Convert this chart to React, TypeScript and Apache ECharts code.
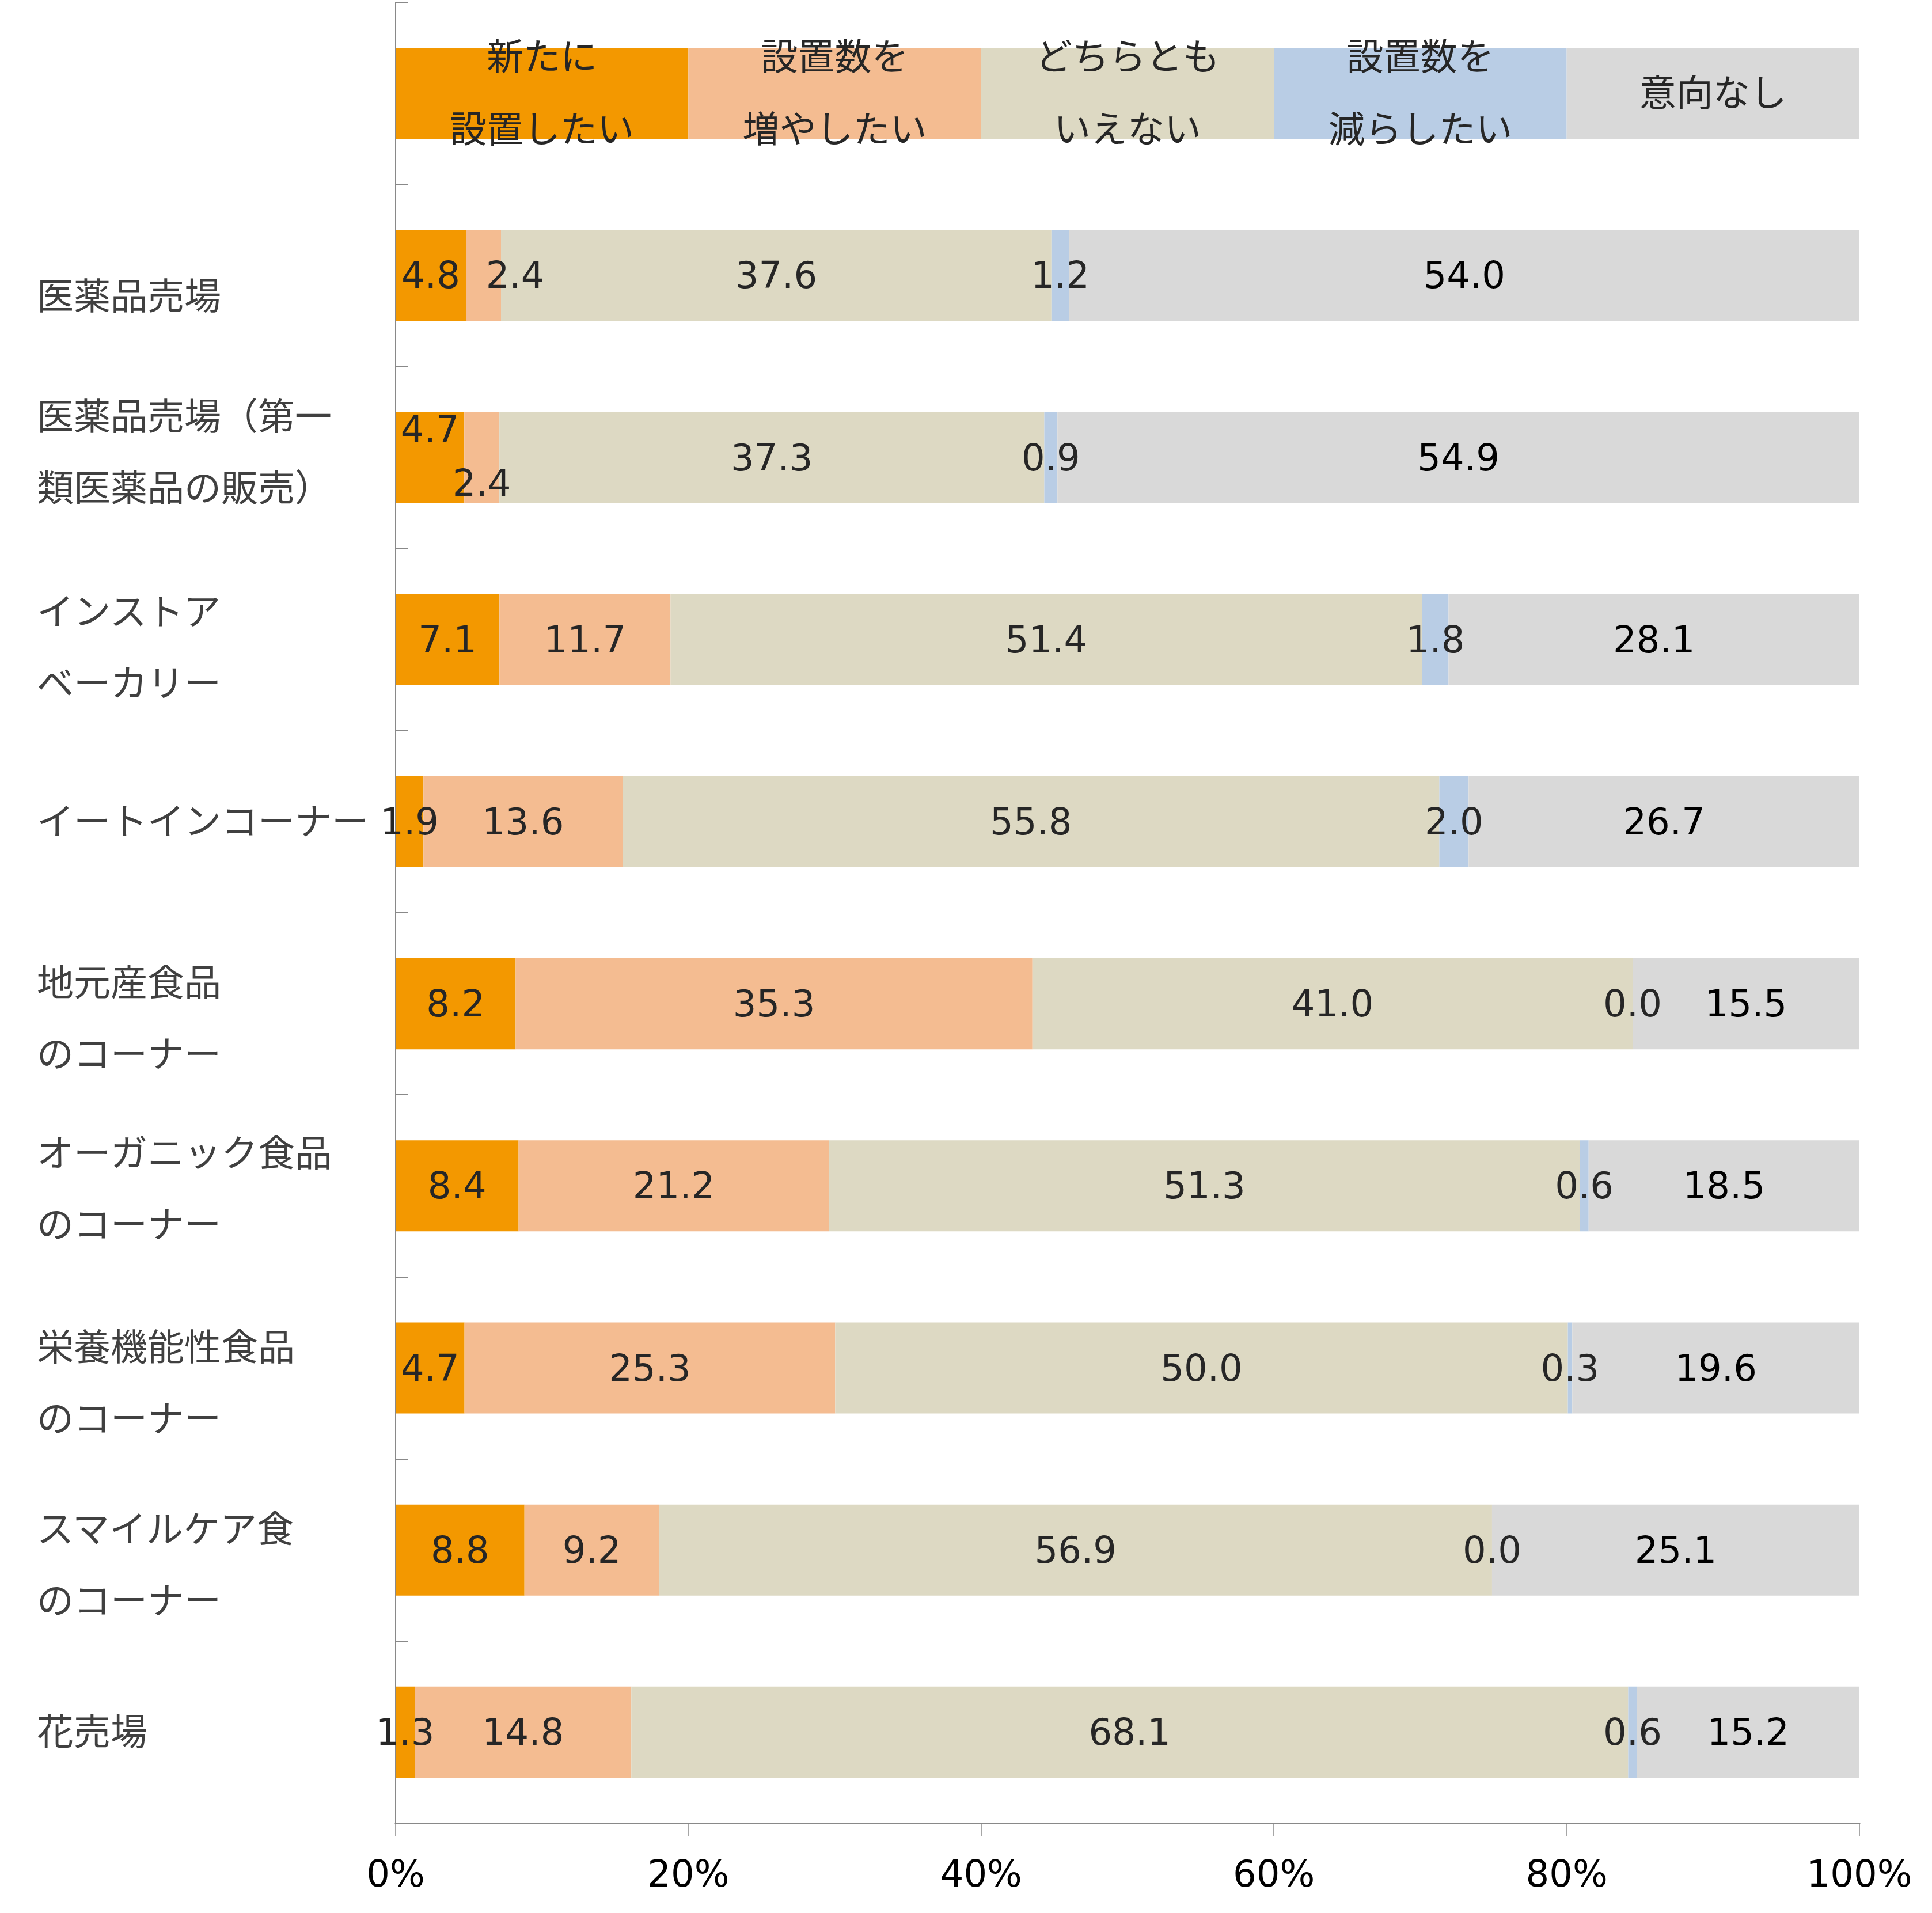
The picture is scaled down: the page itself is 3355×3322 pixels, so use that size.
import React, { useEffect, useRef } from "react";
import * as echarts from "echarts";

// Categories (top row is the in-chart legend row)
const categories: string[] = [
  "",
  "医薬品売場",
  "医薬品売場（第一\n類医薬品の販売）",
  "インストア\nベーカリー",
  "イートインコーナー",
  "地元産食品\nのコーナー",
  "オーガニック食品\nのコーナー",
  "栄養機能性食品\nのコーナー",
  "スマイルケア食\nのコーナー",
  "花売場",
];

const seriesNames: string[] = [
  "新たに設置したい",
  "設置数を増やしたい",
  "どちらともいえない",
  "設置数を減らしたい",
  "意向なし",
];
const legendLabels: string[] = [
  "新たに\n設置したい",
  "設置数を\n増やしたい",
  "どちらとも\nいえない",
  "設置数を\n減らしたい",
  "意向なし",
];
const legendRow: number[] = [20, 20, 20, 20, 20];

const newInstall: number[] = [4.8, 4.7, 7.1, 1.9, 8.2, 8.4, 4.7, 8.8, 1.3];
const increase: number[] = [2.4, 2.4, 11.7, 13.6, 35.3, 21.2, 25.3, 9.2, 14.8];
const neutral: number[] = [37.6, 37.3, 51.4, 55.8, 41.0, 51.3, 50.0, 56.9, 68.1];
const decrease: number[] = [1.2, 0.9, 1.8, 2.0, 0.0, 0.6, 0.3, 0.0, 0.6];
const noIntent: number[] = [54.0, 54.9, 28.1, 26.7, 15.5, 18.5, 19.6, 25.1, 15.2];

const xTicks: number[] = [0, 20, 40, 60, 80, 100];

const colors = ["#F39800", "#F4BC91", "#DDD9C3", "#B9CDE5", "#D9D9D9"];
const labelColors = ["#262626", "#262626", "#262626", "#262626", "#000000"];

// manual label nudges (series-row) as in the original
const labelOffsets: Record<string, number[]> = {
  "1-0": [55, 0],
  "0-1": [0, -49],
  "1-1": [0, 44],
};

// vertical nudges of category labels (px, positive = down)
const catShift: Record<string, number> = {
  "医薬品売場（第一\n類医薬品の販売）": -9,
  "インストア\nベーカリー": 14,
  "地元産食品\nのコーナー": 26,
  "オーガニック食品\nのコーナー": 6,
  "栄養機能性食品\nのコーナー": 26,
  "スマイルケア食\nのコーナー": 26,
};

const FONT = "'DejaVu Sans', 'Noto Sans CJK JP', sans-serif";
const FS = 64;
const LH = 124;

export default function App() {
  const ref = useRef<HTMLDivElement>(null);
  useEffect(() => {
    if (!ref.current) return;
    const chart = echarts.init(ref.current, undefined, { renderer: "svg" });
    const raw = [newInstall, increase, neutral, decrease, noIntent];
    const rowSums = newInstall.map((_, i) => raw.reduce((s, arr) => s + arr[i], 0));

    const series = raw.map((arr, si) => ({
      name: seriesNames[si],
      type: "bar",
      stack: "total",
      barCategoryGap: "50%",
      itemStyle: { color: colors[si] },
      label: {
        show: true,
        position: "inside",
        fontFamily: FONT,
        fontSize: FS,
        color: labelColors[si],
        formatter: (p: any) =>
          p.dataIndex === 0 ? legendLabels[si] : arr[p.dataIndex - 1].toFixed(1),
      },
      data: [
        {
          value: legendRow[si],
          label: { lineHeight: 126, color: "#262626" },
        },
        ...arr.map((v, i) => {
          const off = labelOffsets[`${si}-${i}`];
          const item: any = { value: (v / rowSums[i]) * 100 };
          if (off) item.label = { offset: off };
          return item;
        }),
      ],
    }));

    // rich styles for shifted two-line labels
    const rich: any = {
      s: {
        fontFamily: FONT,
        fontSize: FS,
        color: "#404040",
        lineHeight: 64,
        padding: [74, 0, 0, 0],
      },
    };
    const shiftKeys: Record<string, string> = {};
    Object.keys(catShift).forEach((k, idx) => {
      const d = catShift[k];
      const a = `a${idx}`;
      const b = `b${idx}`;
      shiftKeys[k] = `${idx}`;
      rich[a] = { fontFamily: FONT, fontSize: FS, color: "#404040", lineHeight: LH + 2 * d };
      rich[b] = { fontFamily: FONT, fontSize: FS, color: "#404040", lineHeight: LH - 2 * d };
    });

    chart.setOption({
      animation: false,
      backgroundColor: "#ffffff",
      grid: { left: 687, right: 126, top: 4, bottom: 156, containLabel: false },
      xAxis: {
        type: "value",
        min: xTicks[0],
        max: xTicks[xTicks.length - 1],
        interval: 20,
        axisLine: { show: true, lineStyle: { color: "#898989", width: 3 } },
        axisTick: { show: true, length: 22, lineStyle: { color: "#898989", width: 1.5 } },
        splitLine: { show: false },
        axisLabel: {
          formatter: "{value}%",
          fontFamily: FONT,
          fontSize: FS,
          lineHeight: 64,
          color: "#000000",
          margin: 56,
        },
      },
      yAxis: {
        type: "category",
        inverse: true,
        data: categories,
        axisLine: { show: true, lineStyle: { color: "#898989", width: 2 } },
        axisTick: { show: true, inside: true, length: 22, lineStyle: { color: "#898989", width: 2 } },
        axisLabel: {
          align: "left",
          margin: 623,
          fontFamily: FONT,
          fontSize: FS,
          lineHeight: LH,
          color: "#404040",
          formatter: (v: string) => {
            if (v === "医薬品売場") return `{s|${v}}`;
            const key = shiftKeys[v];
            if (key !== undefined) {
              const [l1, l2] = v.split("\n");
              return `{a${key}|${l1}}\n{b${key}|${l2}}`;
            }
            return v;
          },
          rich,
        },
      },
      series,
    });
    return () => chart.dispose();
  }, []);
  return (
    <div
      ref={ref}
      style={{ position: "absolute", left: 0, top: 0, width: 3355, height: 3322 }}
    />
  );
}
